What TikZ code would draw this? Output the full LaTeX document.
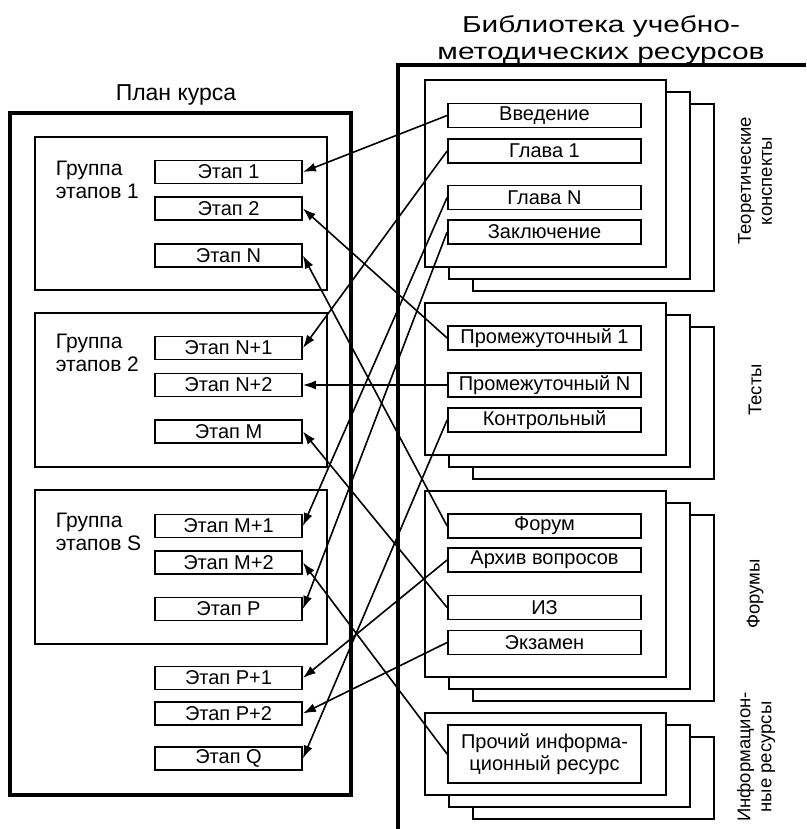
\documentclass[tikz,border=0pt]{standalone}
\usepackage{fontspec}
\setmainfont{Liberation Sans}
\usetikzlibrary{arrows.meta}

\begin{document}
\begin{tikzpicture}[x=1pt,y=-1pt,line width=1.8pt,stage/.style={draw,fill=white,minimum width=147pt,minimum height=23pt,inner sep=0pt,font=\fontsize{20}{22}\selectfont},res/.style={draw,fill=white,minimum width=193pt,minimum height=24pt,inner sep=0pt,font=\fontsize{20}{22}\selectfont},link/.style={-{Latex[length=13pt,width=9pt]},line width=1.6pt},heavy/.style={line width=3.8pt},grouplbl/.style={anchor=north west,align=left,inner sep=0pt,font=\fontsize{21}{23}\selectfont},side/.style={rotate=90,align=center,font=\fontsize{18.5}{21}\selectfont},title/.style={align=center,font=\fontsize{23}{27}\selectfont}]
\def\sx{228.5};
\def\rx{544.5};
\def\dx{24};
\def\dy{12};
\def\panel#1#2#3#4{\draw[fill=white] (#1+2*\dx,#2+2*\dy) rectangle (#3+2*\dx,#4+2*\dy);\draw[fill=white] (#1+\dx,#2+\dy) rectangle (#3+\dx,#4+\dy);\draw[fill=white] (#1,#2) rectangle (#3,#4);}

\useasboundingbox (0,0) rectangle (806,829);

\node[title] (plan) at (176,95) {План курса};
\draw[heavy] (10,113) rectangle (351,795);
\draw (35,137) rectangle (327,290);
\draw (35,313) rectangle (327,467);
\draw (35,490) rectangle (327,644);

\node[grouplbl] (g1) at (55,160) {Группа\\этапов 1};
\node[grouplbl] (g2) at (55,333) {Группа\\этапов 2};
\node[grouplbl] (gS) at (55,512) {Группа\\этапов S};

\node[stage] (e1) at (\sx,172) {Этап 1};
\node[stage] (e2) at (\sx,208.5) {Этап 2};
\node[stage] (eN) at (\sx,255.5) {Этап N};
\node[stage] (eN1) at (\sx,348) {Этап N+1};
\node[stage] (eN2) at (\sx,385) {Этап N+2};
\node[stage] (eM) at (\sx,431.5) {Этап M};
\node[stage] (eM1) at (\sx,526) {Этап M+1};
\node[stage] (eM2) at (\sx,562.5) {Этап M+2};
\node[stage] (eP) at (\sx,609) {Этап P};
\node[stage] (eP1) at (\sx,678) {Этап P+1};
\node[stage] (eP2) at (\sx,713.5) {Этап P+2};
\node[stage] (eQ) at (\sx,758.5) {Этап Q};

\node[title,transform shape,xscale=1.3] (lib) at (601,39.5) {Библиотека учебно-\\методических ресурсов};
\draw[heavy] (806,65) -- (398,65) -- (398,829);

\panel{425}{80}{666}{267}
\panel{425}{303}{666}{455}
\panel{425}{491}{666}{677}
\panel{425}{713}{666}{795}

\node[res] (intro) at (\rx,115.5) {Введение};
\node[res] (ch1) at (\rx,151) {Глава 1};
\node[res] (chN) at (\rx,197.5) {Глава N};
\node[res] (concl) at (\rx,232) {Заключение};
\node[res] (mid1) at (\rx,338) {Промежуточный 1};
\node[res] (midN) at (\rx,385) {Промежуточный N};
\node[res] (final) at (\rx,420) {Контрольный};
\node[res] (forum) at (\rx,526) {Форум};
\node[res] (archive) at (\rx,560) {Архив вопросов};
\node[res] (iz) at (\rx,607.5) {ИЗ};
\node[res] (exam) at (\rx,642.5) {Экзамен};
\node[res,minimum height=58pt,align=center] (other) at (\rx,754) {Прочий информа-\\ционный ресурс};

\node[side] (sdtheory) at (755,181) {Теоретические\\конспекты};
\node[side] (sdtests) at (755,390) {Тесты};
\node[side] (sdforum) at (755,594) {Форумы};
\node[side] (sdinfo) at (756,757) {Информацион-\\ные ресурсы};

\draw[link] (intro.west) -- (e1.east);
\draw[link] (ch1.west) -- (eN1.east);
\draw[link] (chN.west) -- (eM1.east);
\draw[link] (concl.west) -- (eP.east);
\draw[link] (mid1.west) -- (e2.east);
\draw[link] (midN.west) -- (eN2.east);
\draw[link] (final.west) -- (eQ.east);
\draw[link] (forum.west) -- (eN.east);
\draw[link] (archive.west) -- (eP1.east);
\draw[link] (iz.west) -- (eM.east);
\draw[link] (exam.west) -- (eP2.east);
\draw[link] (other.west) -- (eM2.east);
\end{tikzpicture}
\end{document}
